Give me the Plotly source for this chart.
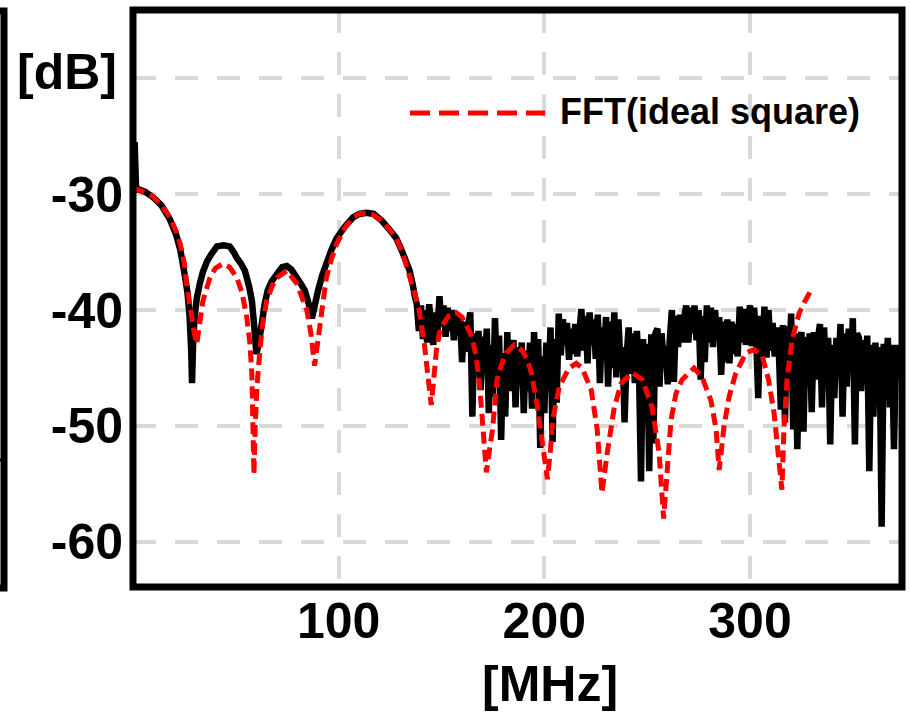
import plotly.graph_objects as go

# ---------------- data ----------------
# measured spectrum, smooth low-frequency part
meas_f_low = [0.8, 1.5, 3, 6, 10, 14, 18, 21, 23, 25, 26.5, 27.5, 28.3, 28.7, 29.2, 30, 31,
              32.5, 34, 36, 38, 40.8, 44, 47, 49, 50.5, 52.5, 54.4, 56.5, 57.8, 59, 60, 61,
              62.6, 64, 65.5, 67.5, 70, 72.5, 74.8, 77, 79.6, 81.5, 83.5, 85.5, 87, 88.5, 90,
              92, 94, 96.5, 99, 103, 107, 110, 113.6, 117, 121, 124.5, 128, 131, 134.5, 136, 137]
meas_db_low = [-25.5, -29.6, -29.6, -29.8, -30.3, -31.0, -32.2, -33.5, -34.8, -36.8, -38.5,
               -40.5, -43.5, -46.3, -43.0, -40.5, -39.0, -37.7, -36.7, -35.8, -35.2, -34.5,
               -34.4, -34.5, -35.0, -35.5, -36.0, -36.6, -38.0, -39.2, -41.5, -43.8, -43.0,
               -41.2, -39.5, -38.3, -37.5, -36.9, -36.3, -36.2, -36.5, -37.2, -37.7, -38.3,
               -39.5, -40.7, -39.5, -38.3, -37.0, -36.0, -34.8, -33.8, -32.8, -32.0, -31.7,
               -31.6, -31.7, -32.3, -33.0, -33.8, -35.0, -36.6, -37.8, -38.8]

# measured spectrum, noisy part: one value per MHz from 138 MHz to 373 MHz
meas_f_high = list(range(138, 374))
meas_db_high = [
    -39.5, -41.8, -39.6, -42.5, -40.0, -42.8, -39.5, -41.5, -43.0, -40.2,   # 138-147
    -42.0, -38.8, -41.4, -39.6, -42.3, -39.8, -41.8, -40.0, -42.6, -40.3,   # 148-157
    -41.6, -40.6, -44.5, -41.0, -43.6, -41.3, -40.2, -49.2, -42.0, -45.5,   # 158-167
    -41.8, -46.9, -42.3, -45.0, -41.6, -48.9, -43.0, -47.5, -40.7, -46.0,   # 168-177
    -42.2, -51.2, -43.7, -49.2, -41.9, -47.0, -43.5, -42.6, -48.4, -43.2,   # 178-187
    -46.5, -42.8, -48.9, -43.5, -47.0, -42.8, -48.5, -41.9, -47.0, -42.5,   # 188-197
    -51.9, -44.0, -48.9, -42.8, -46.5, -41.5, -51.4, -42.5, -48.0, -40.3,   # 198-207
    -43.9, -40.8, -43.0, -41.1, -44.3, -41.6, -43.8, -41.2, -44.0, -42.0,   # 208-217
    -39.9, -43.5, -40.5, -44.6, -40.2, -43.0, -40.8, -44.2, -40.4, -46.3,   # 218-227
    -41.5, -44.0, -40.6, -46.6, -41.0, -45.0, -40.2, -45.8, -40.8, -44.5,   # 228-237
    -43.2, -49.7, -44.0, -41.5, -45.5, -42.0, -46.3, -41.8, -45.0, -54.8,   # 238-247
    -42.5, -49.0, -42.9, -53.9, -42.1, -51.5, -42.0, -41.6, -46.6, -42.0,   # 248-257
    -44.5, -43.1, -46.4, -42.5, -40.0, -46.2, -40.5, -43.2, -40.4, -42.8,   # 258-267
    -40.6, -39.6, -42.8, -39.8, -42.0, -39.6, -42.6, -40.0, -46.0, -40.5,   # 268-277
    -44.5, -39.6, -42.8, -39.8, -43.2, -40.0, -42.5, -40.6, -45.6, -41.0,   # 278-287
    -44.5, -40.8, -44.6, -41.0, -43.8, -41.2, -44.0, -39.7, -42.8, -39.9,   # 288-297
    -43.0, -41.0, -39.6, -43.1, -39.8, -42.5, -47.6, -40.5, -44.0, -39.7,   # 298-307
    -44.1, -40.0, -43.5, -41.1, -44.0, -41.5, -43.5, -48.6, -41.3, -49.7,   # 308-317
    -41.4, -45.0, -40.3, -50.3, -42.0, -52.0, -43.0, -41.9, -50.5, -42.3,   # 318-327
    -46.5, -42.0, -48.8, -41.9, -46.0, -42.5, -41.2, -48.4, -41.5, -45.5,   # 328-337
    -42.4, -51.6, -43.0, -47.6, -42.4, -45.0, -41.2, -49.2, -42.0, -46.6,   # 338-347
    -41.6, -45.0, -40.7, -51.6, -42.0, -42.4, -47.0, -42.6, -46.0, -42.2,   # 348-357
    -53.9, -43.0, -49.2, -42.8, -47.5, -43.2, -58.7, -42.9, -45.5, -42.4,   # 358-367
    -48.4, -43.0, -52.0, -43.0, -46.0, -43.5,                               # 368-373
]

# FFT of an ideal square wave
fft_f = [0, 4, 9.7, 14, 18, 21, 23, 25, 26, 27.5, 28.6, 30, 31, 32, 34, 37.4, 40, 43.7, 47,
         50.5, 53, 55.3, 56.8, 57.8, 58.4, 58.8, 59.4, 60.3, 61.7, 63, 65, 67.5, 70, 74.8,
         79.6, 82, 84.5, 86.5, 88.3, 89.5, 90.8, 92.5, 94, 96.5, 99, 103, 107, 110, 113.6,
         117, 121, 124.5, 128, 131, 134.5, 137, 139, 141.7, 143.5, 145, 146.2, 147.5, 149,
         150.5, 153.5, 157, 160, 162, 164, 166, 168, 169.4, 170.8, 171.8, 173, 174.8, 176,
         177, 179, 181.5, 185.4, 189.3, 191.5, 193.7, 196.6, 199, 201.5, 203, 204, 207.3,
         212, 215.5, 218.4, 222.8, 225.7, 228, 229.5, 230.6, 234, 237.4, 242.7, 247.6,
         252.4, 255.8, 258, 259.7, 261.6, 264, 267, 272.8, 276.7, 281, 283.5, 285, 287.4,
         289.8, 293, 298, 302, 306, 309, 311.7, 314, 315.5, 316.5, 318, 320.4, 323.8,
         326.5, 329.6]
fft_db = [-29.5, -29.7, -30.2, -31.0, -32.0, -33.2, -34.3, -36.0, -37.7, -39.6, -40.6, -42.2,
          -42.9, -41.8, -39.2, -37.2, -36.4, -36.0, -36.3, -37.2, -38.5, -40.6, -42.8, -45.5,
          -50.0, -54.2, -50.0, -46.5, -43.5, -41.2, -39.2, -38.0, -37.2, -36.6, -37.7, -38.7,
          -40.0, -42.0, -44.8, -43.2, -41.5, -39.2, -37.2, -35.6, -34.3, -32.9, -32.0, -31.7,
          -31.6, -31.8, -32.3, -33.0, -33.8, -35.0, -37.0, -38.6, -39.8, -43.0, -45.5, -48.2,
          -46.0, -43.5, -42.0, -41.3, -40.5, -40.2, -40.6, -41.2, -42.0, -43.2, -45.5, -48.4,
          -51.5, -54.0, -52.5, -50.3, -48.0, -46.0, -44.8, -43.7, -43.0, -43.5, -44.2, -45.4,
          -48.3, -51.2, -54.6, -52.0, -49.5, -46.6, -45.0, -44.6, -45.0, -46.9, -50.3, -55.8,
          -53.5, -52.3, -48.4, -46.3, -45.4, -46.0, -48.4, -52.3, -58.0, -54.0, -49.5, -47.2,
          -46.0, -45.0, -45.8, -47.8, -50.3, -53.8, -50.0, -47.5, -45.5, -43.7, -43.4, -44.0,
          -46.0, -48.9, -52.9, -55.5, -50.3, -46.0, -42.6, -40.3, -39.3, -38.3]

x_ticks = [100, 200, 300]
y_ticks = [-30, -40, -50, -60]
y_grid_extra = [-20]
legend_label = "FFT(ideal square)"
x_unit = "[MHz]"
y_unit = "[dB]"

# ---------------- figure ----------------
W, H = 911, 714
ML, MR, MT, MB = 133, 9, 10, 127
PW, PH = W - ML - MR, H - MT - MB


def px(xp):
    return (xp - ML) / PW


def py(yp):
    return (H - MB - yp) / PH


FONT = "Liberation Sans, Arial, sans-serif"

fig = go.Figure()
fig.add_trace(go.Scatter(
    x=meas_f_low + meas_f_high, y=meas_db_low + meas_db_high,
    mode="lines", line=dict(color="black", width=6.5, simplify=False), name="measured",
    showlegend=False))
fig.add_trace(go.Scatter(
    x=fft_f, y=fft_db, mode="lines",
    line=dict(color="#ff0000", width=5, dash="12px,6px"), name=legend_label,
    showlegend=False))

grid = dict(showgrid=True, gridcolor="#d9d9d9", gridwidth=4, griddash="23px,19px")
fig.update_xaxes(range=[0, 373.9], tickvals=x_ticks, ticktext=[str(v) for v in x_ticks],
                 zeroline=False, showline=False, ticks="",
                 tickfont=dict(family=FONT, size=50, color="black", weight="bold"),
                 **grid)
fig.update_yaxes(range=[-63.9, -14.1], tickvals=y_grid_extra + y_ticks,
                 ticktext=[""] + [str(v) for v in y_ticks],
                 zeroline=False, showline=False, ticks="", ticklabelstandoff=9,
                 tickfont=dict(family=FONT, size=50, color="black", weight="bold"),
                 **grid)

shapes = [
    # plot frame
    dict(type="rect", xref="paper", yref="paper", x0=0, x1=1, y0=0, y1=1,
         line=dict(color="black", width=7), layer="above"),
    # neighbouring panel's frame edge at far left
    dict(type="path", xref="paper", yref="paper",
         path=f"M {px(-5)},{py(11)} L {px(4)},{py(11)} L {px(4)},{py(588)} L {px(-5)},{py(588)}",
         line=dict(color="black", width=7), layer="above"),
    dict(type="line", xref="paper", yref="paper", x0=px(-2), x1=px(4), y0=py(460), y1=py(460),
         line=dict(color="black", width=3), layer="above"),
    # legend sample line
    dict(type="line", xref="paper", yref="paper", x0=px(410), x1=px(545), y0=py(113), y1=py(113),
         line=dict(color="#ff0000", width=5, dash="20px,9px"), layer="above"),
]

annotations = [
    dict(text=legend_label, xref="paper", yref="paper", x=px(558), y=py(112),
         xanchor="left", yanchor="middle", showarrow=False,
         font=dict(family=FONT, size=36, color="black", weight="bold")),
    dict(text=y_unit, xref="paper", yref="paper", x=px(119), y=py(72),
         xanchor="right", yanchor="middle", showarrow=False,
         font=dict(family=FONT, size=50, color="black", weight="bold")),
    dict(text=x_unit, xref="paper", yref="paper", x=px(550), y=py(684),
         xanchor="center", yanchor="middle", showarrow=False,
         font=dict(family=FONT, size=50, color="black", weight="bold")),
]

fig.update_layout(width=W, height=H, margin=dict(l=ML, r=MR, t=MT, b=MB),
                  paper_bgcolor="white", plot_bgcolor="white",
                  shapes=shapes, annotations=annotations, showlegend=False)

fig.write_html("out.html", config={"displayModeBar": False},
               post_script="document.body.style.margin='0px';document.body.style.padding='0px';")
